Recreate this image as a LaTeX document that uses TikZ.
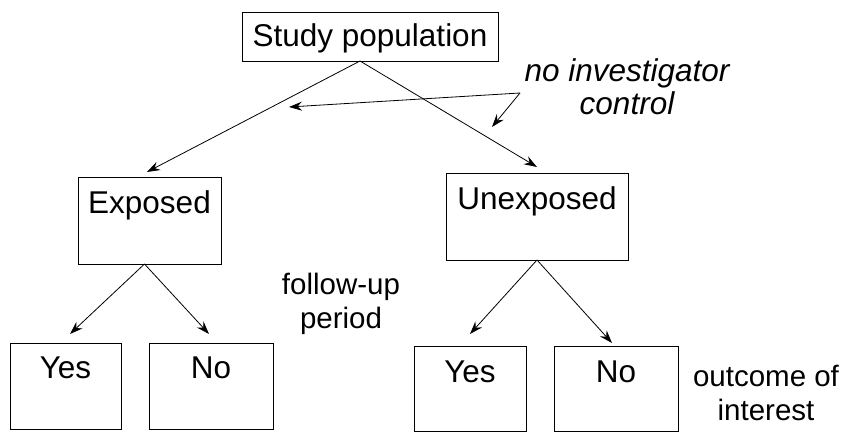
\documentclass[tikz,border=0pt]{standalone}
\usepackage{fontspec}
\setmainfont{Liberation Sans}
\usetikzlibrary{arrows.meta}
\tikzset{
  boxnode/.style={draw, line width=0.9pt, inner sep=0pt, outer sep=0pt, anchor=north west,
    font=\fontsize{31.5}{36}\selectfont},
  annot/.style={inner sep=0pt, outer sep=0pt, align=center, anchor=base, font=\fontsize{29.5}{34}\selectfont},
  conn/.style={line width=0.8pt, -{Stealth[length=13pt,width=9pt,inset=4.5pt]}},
}
\begin{document}
\begin{tikzpicture}[x=1pt,y=-1pt]
\useasboundingbox (0,0) rectangle (852,433);
\node[boxnode, minimum width=256pt, text height=35pt, text depth=14pt] (sp) at (242,12) {Study population};
\node[boxnode, minimum width=143pt, text height=37pt, text depth=50pt] (ex) at (78,177) {Exposed};
\node[boxnode, minimum width=182pt, text height=37pt, text depth=50pt] (ux) at (446,173) {Unexposed};
\node[boxnode, minimum width=111pt, text height=35pt, text depth=51pt] (ly) at (10,343) {Yes};
\node[boxnode, minimum width=124pt, text height=35pt, text depth=51pt] (ln) at (149,343) {No};
\node[boxnode, minimum width=112pt, text height=36pt, text depth=49pt] (ry) at (414,346) {Yes};
\node[boxnode, minimum width=124pt, text height=36pt, text depth=49pt] (rn) at (554,346) {No};

\node[annot, font=\fontsize{31.5}{33}\selectfont\itshape] (nic) at (627,115) {no investigator\\control};
\node[annot] (fup) at (341,328) {follow-up\\period};
\node[annot] (ooi) at (766,420) {outcome of\\interest};

\coordinate (c0) at (520,93);
\coordinate (c1) at (289,107);
\coordinate (c2) at (492,127);

\draw[conn] ([xshift=-10pt]sp.south) -- ([xshift=-2.5pt,yshift=5pt]ex.north);
\draw[conn] ([xshift=-10pt]sp.south) -- ([yshift=6pt]ux.north);
\draw[conn] ([xshift=-5pt]ex.south) -- ([xshift=4.5pt,yshift=9pt]ly.north);
\draw[conn] ([xshift=-5pt]ex.south) -- ([xshift=-2pt,yshift=9pt]ln.north);
\draw[conn] (ux.south) -- ([yshift=12pt]ry.north);
\draw[conn] (ux.south) -- ([xshift=-4pt,yshift=3pt]rn.north);
\draw[conn] (c0) -- (c1);
\draw[conn] (c0) -- (c2);
\end{tikzpicture}
\end{document}
